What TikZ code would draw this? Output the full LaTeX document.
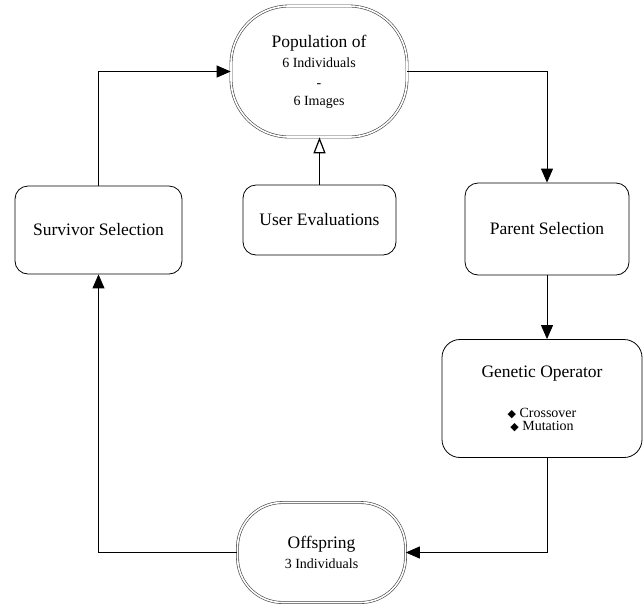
\documentclass[tikz,border=0pt]{standalone}
\usepackage{fontspec}
\setmainfont{Liberation Serif}
\newfontfamily\symfont{DejaVu Sans}
\usetikzlibrary{arrows.meta}
\newcommand{\bigf}{\fontsize{17.5}{20}\selectfont}
\newcommand{\smallf}{\fontsize{14}{20}\selectfont}
\newcommand{\dia}{{\symfont\fontsize{11}{11}\selectfont ◆}}
\begin{document}
\begin{tikzpicture}[x=1pt,y=-1pt,
  box/.style={draw, line width=0.8pt, rounded corners=13pt, align=center, font=\bigf, inner sep=0pt},
  term/.style={draw=black!75, line width=0.6pt, double=white, double distance=1.6pt, align=center, inner sep=0pt, font=\smallf},
  flow/.style={line width=0.9pt, -{Triangle[length=14pt,width=12pt]}},
  openflow/.style={line width=0.9pt, -{Triangle[open,length=16pt,width=12pt,line width=1.2pt]}}
]
\useasboundingbox (0,0) rectangle (644,606);

\node[term, rounded corners=58pt, minimum width=176pt, minimum height=131pt] (pop) at (319,71.5)
  {{\bigf Population of}\\ 6 Individuals\\ -\\[-2pt] 6 Images};
\node[box, minimum width=167pt, minimum height=88pt] (surv) at (98.5,230) {Survivor Selection};
\node[box, minimum width=153pt, minimum height=70pt] (user) at (319.5,220) {User Evaluations};
\node[box, minimum width=164pt, minimum height=92pt] (par) at (547,229) {Parent Selection};
\node[box, rounded corners=18pt, minimum width=200pt, minimum height=118pt] (gen) at (542,398.5)
  {Genetic Operator\\[20pt] {\smallf\dia\ Crossover}\\[-7pt] {\smallf\dia\ Mutation}};
\node[term, rounded corners=45pt, minimum width=168pt, minimum height=100pt] (off) at (321.5,552.5)
  {{\bigf Offspring}\\[0pt] 3 Individuals};

\draw[flow] (pop.east) -| (par.north);
\draw[flow] (par.south) -- (par.south |- gen.north);
\draw[flow] (par.south |- gen.south) |- (off.east);
\draw[flow] (off.west) -| (surv.south);
\draw[flow] (surv.north) |- (pop.west);
\draw[openflow] (user.north) -- (user.north |- pop.south);
\end{tikzpicture}
\end{document}
